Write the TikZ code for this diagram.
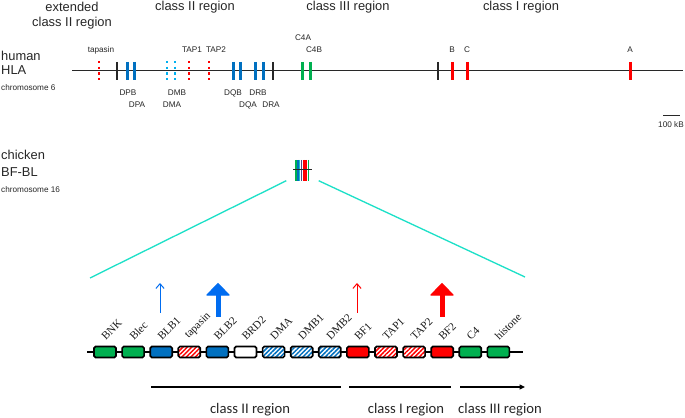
\documentclass[tikz,border=0pt]{standalone}
\usepackage{fontspec}
\setmainfont{Liberation Serif}
\newfontfamily\hlafont{Liberation Sans}
\newfontfamily\regfont{Carlito}
\usetikzlibrary{arrows.meta, patterns.meta, positioning, calc}
\definecolor{genegreen}{RGB}{0,176,80}
\definecolor{geneblue}{RGB}{0,112,192}
\definecolor{genecyan}{RGB}{0,176,240}
\definecolor{genered}{RGB}{255,0,0}
\definecolor{arrowblue}{RGB}{0,108,240}
\definecolor{zoomcyan}{RGB}{30,224,200}
\definecolor{chromgray}{RGB}{40,40,40}

\begin{document}
\begin{tikzpicture}[
        x=0.3mm, y=-0.3mm,
        chrom/.style={line width=0.3mm, chromgray},
        border/.style={line width=0.35mm, chromgray},
        solidtick/.style={line width=0.9mm},
        dottick/.style={line width=0.8mm, dash pattern=on 0.75mm off 0.95mm},
        region/.style={font=\hlafont\fontsize{11}{13}\selectfont, text=black!85, inner sep=0pt, align=center},
        species/.style={font=\hlafont\fontsize{11}{13}\selectfont, text=black!85, inner sep=0pt, anchor=west},
        chromlabel/.style={font=\hlafont\fontsize{7}{8}\selectfont, text=black!85, inner sep=0pt, anchor=west},
        hlalabel/.style={font=\hlafont\fontsize{7}{8}\selectfont, text=black!85, inner sep=0pt},
        genebox/.style={rectangle, draw=black, line width=0.5mm, rounded corners=0.5mm, minimum width=6.6mm, minimum height=3.3mm, inner sep=0pt},
        greenbox/.style={genebox, fill=genegreen},
        bluebox/.style={genebox, fill=geneblue},
        redbox/.style={genebox, fill=genered},
        whitebox/.style={genebox, fill=white},
        redhatch/.style={genebox, preaction={fill=white}, pattern={Lines[angle=45, distance=0.95mm, line width=0.45mm]}, pattern color=genered},
        bluehatch/.style={genebox, preaction={fill=white}, pattern={Lines[angle=45, distance=0.95mm, line width=0.45mm]}, pattern color=geneblue},
        chicklabel/.style={font=\fontsize{9.5}{10}\selectfont, text=black!90, inner sep=0pt, rotate=45, anchor=south west},
        thinarrow/.style={-{Straight Barb[length=4pt, width=7pt]}, line width=0.3mm},
        thickarrow/.style={-{Triangle[length=11pt, width=21pt, line width=1pt, round]}, line width=1.5mm},
        bottomlabel/.style={font=\regfont\fontsize{12.5}{14}\selectfont, text=black!85, inner sep=0pt}
    ]
    \useasboundingbox (0,0) rectangle (685,418);

    % Region headings
    \node[region] (extII) at (72,15.5) {extended\\class II region};
    \node[region] (hII) at (195,7.5) {class II region};
    \node[region] (hIII) at (348,7.5) {class III region};
    \node[region] (hI) at (521,7.5) {class I region};

    % Human HLA
    \node[species] (human) at (1,56) {human};
    \node[species] (hla) at (1,70) {HLA};
    \node[chromlabel] (chr6) at (1,88) {chromosome 6};
    \coordinate (hlaL) at (72,71);
    \coordinate (hlaR) at (683,71);
    \draw[chrom] (hlaL) -- (hlaR);

    % borders between regions
    \foreach \x in {117, 273, 438}
        \draw[border] (\x,62) -- (\x,80);

    % genes
    \foreach \x in {127, 134, 233, 240, 255, 263}
        \draw[solidtick, geneblue] (\x,62) -- (\x,80);
    \foreach \x in {302, 310}
        \draw[solidtick, genegreen] (\x,62) -- (\x,80);
    \foreach \x in {452, 467, 630}
        \draw[solidtick, genered] (\x,62) -- (\x,80);
    \foreach \x in {99, 189, 209}
        \draw[dottick, genered] (\x,61) -- (\x,81);
    \foreach \x in {167, 175}
        \draw[dottick, genecyan] (\x,61) -- (\x,81);

    % gene labels
    \node[hlalabel] (ltapasin) at (101,50) {tapasin};
    \node[hlalabel] (ltap1) at (192,50) {TAP1};
    \node[hlalabel] (ltap2) at (216,50) {TAP2};
    \node[hlalabel] (lc4a) at (303,38) {C4A};
    \node[hlalabel] (lc4b) at (314,50) {C4B};
    \node[hlalabel] (lb) at (452,50) {B};
    \node[hlalabel] (lc) at (467,50) {C};
    \node[hlalabel] (la) at (630,50) {A};
    \node[hlalabel] (ldpb) at (128,93) {DPB};
    \node[hlalabel] (ldpa) at (137,105) {DPA};
    \node[hlalabel] (ldmb) at (177,93) {DMB};
    \node[hlalabel] (ldma) at (172,105) {DMA};
    \node[hlalabel] (ldqb) at (233,93) {DQB};
    \node[hlalabel] (ldqa) at (248,105) {DQA};
    \node[hlalabel] (ldrb) at (258,93) {DRB};
    \node[hlalabel] (ldra) at (271,105) {DRA};

    % scale bar
    \coordinate (barL) at (663,116);
    \coordinate (barR) at (680,116);
    \draw[chrom] (barL) -- (barR);
    \node[hlalabel] (barlabel) at (671,125) {100 kB};

    % Chicken BF-BL
    \node[species] (chicken) at (1,155) {chicken};
    \node[species] (bfbl) at (1,172) {BF-BL};
    \node[chromlabel] (chr16) at (1,190) {chromosome 16};

    \node[minimum width=9.6mm, minimum height=6.3mm, inner sep=0pt] (cluster) at (302.5,170) {};
    \draw[line width=0.45mm, genegreen] (296,160) -- (296,181);
    \draw[line width=0.45mm, geneblue] (298,160) -- (298,181);
    \draw[line width=0.4mm, zoomcyan!70!geneblue] (299.7,160) -- (299.7,181);
    \draw[line width=0.4mm, geneblue!70!genered] (301.3,160) -- (301.3,181);
    \draw[line width=0.6mm, genered] (303.8,160) -- (303.8,181);
    \draw[line width=0.5mm, genered] (306,160) -- (306,181);
    \draw[line width=0.45mm, genegreen] (308.7,160) -- (308.7,181);
    \draw[chrom] (293,170) -- (312,170);

    % zoom lines
    \coordinate (zoomL) at (90,278);
    \coordinate (zoomR) at (525,277);
    \draw[zoomcyan, line width=0.4mm] (cluster.south west) -- (zoomL);
    \draw[zoomcyan, line width=0.4mm] (cluster.south east) -- (zoomR);

    % expanded chicken region
    \coordinate (chL) at (87,352);
    \coordinate (chR) at (523,352);
    \draw[line width=0.4mm] (chL) -- (chR);
    \foreach \name/\sty [count=\i] in {BNK/greenbox, Blec/greenbox, BLB1/bluebox, tapasin/redhatch, BLB2/bluebox, BRD2/whitebox, DMA/bluehatch, DMB1/bluehatch, DMB2/bluehatch, BF1/redbox, TAP1/redhatch, TAP2/redhatch, BF2/redbox, C4/greenbox, histone/greenbox}{
        \pgfmathsetmacro{\gx}{105+28.1*(\i-1)}
        \node[\sty] (g\i) at (\gx,352) {};
        \node[chicklabel] (lg\i) at (\gx+1,341) {\name};
    }

    % expression arrows
    \coordinate (blb1a) at (160,313);
    \coordinate (blb1b) at (160,283);
    \coordinate (blb2a) at (218,317);
    \coordinate (blb2b) at (218,283);
    \coordinate (bf1a) at (357,313);
    \coordinate (bf1b) at (357,283);
    \coordinate (bf2a) at (442,317);
    \coordinate (bf2b) at (442,283);
    \draw[thinarrow, arrowblue] (blb1a) -- (blb1b);
    \draw[thickarrow, arrowblue] (blb2a) -- (blb2b);
    \draw[thinarrow, genered] (bf1a) -- (bf1b);
    \draw[thickarrow, genered] (bf2a) -- (bf2b);

    % bottom regions
    \coordinate (rIIa) at (151,387);
    \coordinate (rIIb) at (341,387);
    \coordinate (rIa) at (349,387);
    \coordinate (rIb) at (451,387);
    \coordinate (rIIIa) at (460,387);
    \coordinate (rIIIb) at (525,387);
    \draw[line width=0.35mm] (rIIa) -- (rIIb);
    \draw[line width=0.35mm] (rIa) -- (rIb);
    \draw[line width=0.35mm, -{Triangle[length=4.5pt, width=4pt]}] (rIIIa) -- (rIIIb);
    \node[bottomlabel] (bII) at (250,410) {class II region};
    \node[bottomlabel] (bI) at (406,410) {class I region};
    \node[bottomlabel] (bIII) at (500,410) {class III region};

    \end{tikzpicture}
\end{document}
